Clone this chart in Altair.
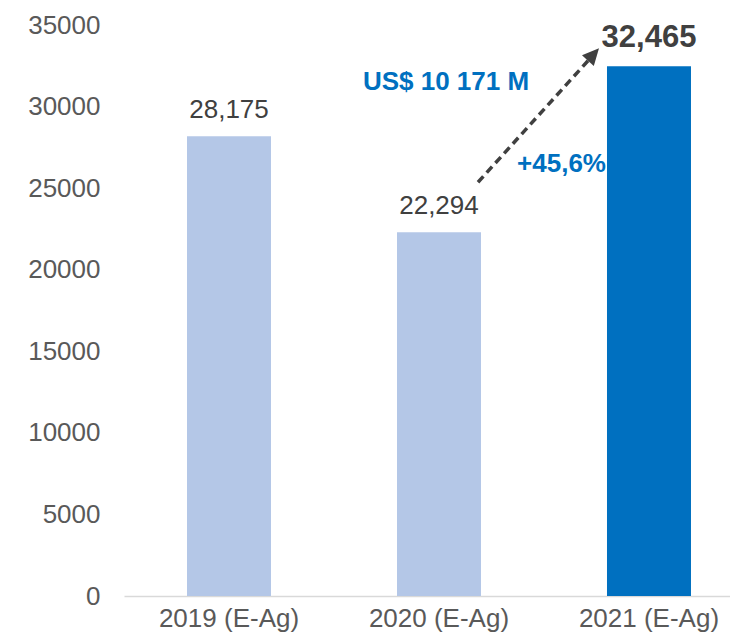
import altair as alt
import pandas as pd

# ---- data ----
categories = ["2019 (E-Ag)", "2020 (E-Ag)", "2021 (E-Ag)"]
values = [28175, 22294, 32465]
bar_colors = ["#B4C7E7", "#B4C7E7", "#0070C0"]
highlight = [False, False, True]
y_ticks = [0, 5000, 10000, 15000, 20000, 25000, 30000, 35000]

diff_label = ["US$ 10 171 M"]
diff_cat = ["2020 (E-Ag)"]
diff_y = [31000]

pct_label = ["+45,6%"]
pct_cat = ["2021 (E-Ag)"]
pct_y = [25970]

arrow_from_cat = ["2020 (E-Ag)"]
arrow_from_y = [25360]
arrow_to_cat = ["2021 (E-Ag)"]
arrow_to_y = [32810]
arrow_tip_y = [33570]

FONT = "Liberation Sans"
BLUE = "#0070C0"
DARK = "#404040"

df = pd.DataFrame({"cat": categories, "value": values, "hl": highlight})
ann_diff = pd.DataFrame({"cat": diff_cat, "y": diff_y, "t": diff_label})
ann_pct = pd.DataFrame({"cat": pct_cat, "y": pct_y, "t": pct_label})
arrow = pd.DataFrame({"c1": arrow_from_cat, "y1": arrow_from_y,
                      "c2": arrow_to_cat, "y2": arrow_to_y, "yt": arrow_tip_y})

# plot spans 606 px: bands start 63 px in, step 210, bandwidth 84
xscale = alt.Scale(domain=categories, paddingInner=0.6, paddingOuter=0.2429, align=0.6176)
yscale = alt.Scale(domain=[0, 35000], nice=False, zero=True)

x_enc = alt.X("cat:N", scale=xscale, sort=categories, title=None,
              axis=alt.Axis(labelAngle=0))
y_enc = alt.Y("value:Q", scale=yscale, title=None,
              axis=alt.Axis(values=y_ticks, format="d"))

base = alt.Chart(df)
bars = base.mark_bar().encode(
    x=x_enc, y=y_enc,
    color=alt.Color("cat:N", scale=alt.Scale(domain=categories, range=bar_colors), legend=None),
)

labels_reg = base.transform_filter("!datum.hl").mark_text(
    font=FONT, fontSize=26, color=DARK, baseline="alphabetic", dy=-18
).encode(x=alt.X("cat:N", scale=xscale, sort=categories),
         y=alt.Y("value:Q", scale=yscale),
         text=alt.Text("value:Q", format=","))

labels_hl = base.transform_filter("datum.hl").mark_text(
    font=FONT, fontSize=31, fontWeight="bold", color=DARK, baseline="alphabetic", dy=-19
).encode(x=alt.X("cat:N", scale=xscale, sort=categories),
         y=alt.Y("value:Q", scale=yscale),
         text=alt.Text("value:Q", format=","))

diff_text = alt.Chart(ann_diff).mark_text(
    font=FONT, fontSize=26, fontWeight="bold", color=BLUE, baseline="alphabetic", xOffset=7
).encode(x=alt.X("cat:N", scale=xscale, sort=categories),
         y=alt.Y("y:Q", scale=yscale), text="t:N")

pct_text = alt.Chart(ann_pct).mark_text(
    font=FONT, fontSize=26, fontWeight="bold", color=BLUE, baseline="alphabetic",
    align="right", xOffset=-43
).encode(x=alt.X("cat:N", scale=xscale, sort=categories),
         y=alt.Y("y:Q", scale=yscale), text="t:N")

arrow_line = alt.Chart(arrow).mark_rule(
    color=DARK, strokeWidth=3.5, strokeDash=[8, 5], xOffset=39, x2Offset=-61
).encode(x=alt.X("c1:N", scale=xscale, sort=categories),
         x2="c2:N",
         y=alt.Y("y1:Q", scale=yscale), y2="y2:Q")

arrow_head = alt.Chart(arrow).mark_point(
    shape="M0,0L-0.48,1L0.48,1Z", filled=True, fill=DARK, stroke=DARK, strokeWidth=0,
    opacity=1, size=1100, angle=42, xOffset=-50
).encode(x=alt.X("c2:N", scale=xscale, sort=categories),
         y=alt.Y("yt:Q", scale=yscale))

chart = alt.layer(bars, labels_reg, labels_hl, diff_text, pct_text, arrow_line, arrow_head).properties(
    width=606, height=571,
    padding={"left": 116, "top": 17, "right": 0, "bottom": 36},
    autosize=alt.AutoSizeParams(type="none"),
).configure(background="white").configure_view(stroke=None).configure_axisX(
    ticks=False, domainColor="#D9D9D9", domainWidth=1.5, labelFontSize=26,
    labelColor="#595959", labelFont=FONT, labelPadding=9, grid=False, title=None
).configure_axisY(
    domain=False, ticks=False, grid=False, labelFontSize=26, labelColor="#595959",
    labelFont=FONT, labelPadding=24, title=None
)

chart.save("out.html", embed_options={"renderer": "svg", "actions": False})
